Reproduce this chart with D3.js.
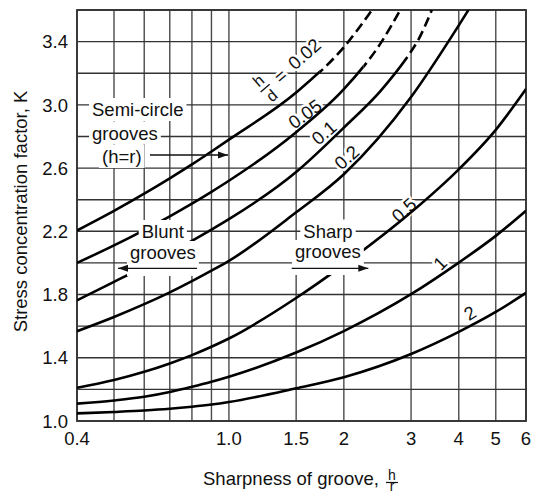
<!DOCTYPE html>
<html><head><meta charset="utf-8">
<script src="https://cdn.jsdelivr.net/npm/d3@7"></script>
<style>
body{margin:0;background:#fff;}
svg{display:block;font-family:"Liberation Sans",Arial,Helvetica,sans-serif;}
</style></head><body>
<svg id="chart" width="539" height="494"></svg>
<script>
// ---------- data ----------
const xGridValues = [0.4,0.5,0.6,0.7,0.8,0.9,1.0,1.5,2,3,4,5,6];
const xTickValues = [0.4,1.0,1.5,2,3,4,5,6];
const xTickLabels = ["0.4","1.0","1.5","2","3","4","5","6"];
const yGridValues = [1.0,1.2,1.4,1.6,1.8,2.0,2.2,2.4,2.6,2.8,3.0,3.2,3.4,3.6];
const yTickValues = [1.0,1.4,1.8,2.2,2.6,3.0,3.4];
const yTickLabels = ["1.0","1.4","1.8","2.2","2.6","3.0","3.4"];

const seriesNames = ["0.02","0.05","0.1","0.2","0.5","1","2"];
const hr_002 = [0.4,0.5,0.6,0.7,0.8,0.9,1.0,1.5,2,2.37];
const K_002  = [2.205,2.329,2.438,2.535,2.623,2.705,2.78,3.078,3.365,3.6];
const hr_005 = [0.4,0.5,0.6,0.7,0.8,0.9,1.0,1.5,2,2.5,2.81];
const K_005  = [2.0,2.111,2.208,2.295,2.375,2.45,2.52,2.827,3.099,3.392,3.6];
const hr_01  = [0.4,0.5,0.6,0.7,0.8,0.9,1.0,1.5,2,2.5,3,3.13,3.4];
const K_01   = [1.763,1.88,1.977,2.063,2.14,2.211,2.277,2.575,2.856,3.09,3.338,3.409,3.6];
const hr_02  = [0.4,0.5,0.6,0.7,0.8,0.9,1.0,1.5,2,3,4,4.24];
const K_02   = [1.568,1.658,1.739,1.814,1.885,1.951,2.013,2.32,2.561,3.05,3.503,3.6];
const hr_05  = [0.4,0.5,0.6,0.7,0.8,0.9,1.0,1.5,2,3,4,5,6];
const K_05   = [1.21,1.259,1.311,1.364,1.417,1.47,1.522,1.778,1.989,2.32,2.592,2.842,3.10];
const hr_1   = [0.4,0.5,0.6,0.7,0.8,0.9,1.0,1.5,2,3,4,5,6];
const K_1    = [1.11,1.13,1.153,1.183,1.216,1.248,1.28,1.433,1.569,1.802,2.002,2.171,2.33];
const hr_2   = [0.4,0.5,0.6,0.7,0.8,0.9,1.0,1.5,2,3,4,5,6];
const K_2    = [1.048,1.057,1.066,1.077,1.09,1.104,1.12,1.207,1.277,1.424,1.564,1.69,1.81];
// h/r beyond which the curve is drawn dashed (null = solid throughout)
const dashFrom = [1.73, 2.25, 2.89, null, null, null, null];

const seriesX = [hr_002,hr_005,hr_01,hr_02,hr_05,hr_1,hr_2];
const seriesK = [K_002,K_005,K_01,K_02,K_05,K_1,K_2];

// ---------- layout ----------
const svg = d3.select("#chart");
const L = 77, R = 526, T = 10, B = 421;
const x = d3.scaleLog().domain([0.4,6]).range([L,R]);
const y = d3.scaleLinear().domain([1.0,3.6]).range([B,T]);
const FS = 18.5;
const gridColor = "#4a4a4a";

const defs = svg.append("defs");
defs.append("clipPath").attr("id","plotClip").append("rect")
  .attr("x",L).attr("y",T).attr("width",R-L).attr("height",B-T);

// grid
const grid = svg.append("g");
grid.selectAll("line.v").data(xGridValues).join("line")
  .attr("x1",d=>x(d)).attr("x2",d=>x(d)).attr("y1",y(1.0)).attr("y2",y(3.6))
  .attr("stroke",gridColor).attr("stroke-width",1.4);
grid.selectAll("line.h").data(yGridValues).join("line")
  .attr("y1",d=>y(d)).attr("y2",d=>y(d)).attr("x1",x(0.4)).attr("x2",x(6))
  .attr("stroke","#333").attr("stroke-width",1.4);
svg.append("rect").attr("x",L).attr("y",T).attr("width",R-L).attr("height",B-T)
  .attr("fill","none").attr("stroke","#333").attr("stroke-width",1.8);

// tick labels
svg.append("g").selectAll("text").data(xTickValues).join("text")
  .attr("x",d=>x(d)).attr("y",B+24).attr("text-anchor","middle")
  .attr("font-size",FS).attr("fill","#111").text((d,i)=>xTickLabels[i]);
svg.append("g").selectAll("text").data(yTickValues).join("text")
  .attr("x",L-9).attr("y",d=>y(d)).attr("dy","0.36em").attr("text-anchor","end")
  .attr("font-size",FS).attr("fill","#111").text((d,i)=>yTickLabels[i]);

// axis titles
svg.append("text").attr("transform","translate(26.5,211.5) rotate(-90)")
  .attr("text-anchor","middle").attr("font-size",FS).attr("fill","#111")
  .text("Stress concentration factor, K");
svg.append("text").attr("x",203).attr("y",484.5).attr("font-size",FS).attr("fill","#111")
  .text("Sharpness of groove,");
const frac = svg.append("text").attr("text-anchor","middle").attr("font-size",14).attr("fill","#111");
frac.append("tspan").attr("x",392).attr("y",480).text("h");
frac.append("tspan").attr("x",392).attr("y",490.5).text("r");
svg.append("line").attr("x1",386).attr("x2",398).attr("y1",482.5).attr("y2",482.5)
  .attr("stroke","#111").attr("stroke-width",1.2);

// curve labels (halo hides the grid behind them)
const labelLayer = svg.append("g");
const curveLabels = [
  {t:"0.05", cx:305, cy:114, a:-36},
  {t:"0.1",  cx:324, cy:132.7, a:-41},
  {t:"0.2",  cx:346.7, cy:157.3, a:-42},
  {t:"0.5",  cx:404, cy:210, a:-42},
  {t:"1",    cx:440, cy:263.3, a:-45},
  {t:"2",    cx:470, cy:313, a:-32}
];
function halo(sel){
  return sel.attr("fill","#111").attr("stroke","#fff").attr("stroke-width",5)
    .attr("paint-order","stroke").attr("stroke-linejoin","round");
}
curveLabels.forEach(c=>{
  halo(labelLayer.append("text")
    .attr("transform",`translate(${c.cx},${c.cy}) rotate(${c.a})`)
    .attr("text-anchor","middle").attr("dominant-baseline","central")
    .attr("font-size",FS)).text(c.t);
});
// h/d = 0.02
const hd = labelLayer.append("g").attr("transform","translate(265.5,88.5) rotate(-41)");
const hdFrac = halo(hd.append("text").attr("text-anchor","middle").attr("font-size",16));
hdFrac.append("tspan").attr("x",0).attr("y",-5).text("h");
hdFrac.append("tspan").attr("x",0).attr("y",15).text("d");
hd.append("line").attr("x1",-6).attr("x2",6).attr("y1",-0.5).attr("y2",-0.5)
  .attr("stroke","#111").attr("stroke-width",1.3);
const hdVal = halo(hd.append("text").attr("text-anchor","middle").attr("dominant-baseline","central")
  .attr("font-size",FS));
hdVal.append("tspan").attr("x",19.5).attr("y",0).text("=");
hdVal.append("tspan").attr("x",52).attr("y",-1).text("0.02");

// curves
const lineGen = d3.line().x(d=>x(d[0])).y(d=>y(d[1])).curve(d3.curveMonotoneX);
const curves = svg.append("g").attr("clip-path","url(#plotClip)");
seriesNames.forEach((name,i)=>{
  const pts = seriesX[i].map((v,j)=>[v,seriesK[i][j]]);
  const dStr = lineGen(pts);
  if (dashFrom[i] == null) {
    curves.append("path").attr("d",dStr).attr("fill","none")
      .attr("stroke","#000").attr("stroke-width",2.6);
  } else {
    const xs = x(dashFrom[i]);
    defs.append("clipPath").attr("id","solid"+i).append("rect")
      .attr("x",L).attr("y",T).attr("width",xs-L).attr("height",B-T);
    defs.append("clipPath").attr("id","dash"+i).append("rect")
      .attr("x",xs).attr("y",T).attr("width",R-xs).attr("height",B-T);
    curves.append("g").attr("clip-path",`url(#solid${i})`).append("path").attr("d",dStr)
      .attr("fill","none").attr("stroke","#000").attr("stroke-width",2.6);
    curves.append("g").attr("clip-path",`url(#dash${i})`).append("path").attr("d",dStr)
      .attr("fill","none").attr("stroke","#000").attr("stroke-width",2.6)
      .attr("stroke-dasharray","10,5");
  }
});

// annotation blocks with white backgrounds
const ann = svg.append("g");
function boxedText(str, xPos, yBase, extraBottom){
  const t = ann.append("text").attr("x",xPos).attr("y",yBase).attr("font-size",FS)
    .attr("fill","#111").text(str);
  const bb = t.node().getBBox();
  ann.insert("rect","text").attr("x",bb.x-3).attr("y",bb.y-1)
    .attr("width",bb.width+6).attr("height",bb.height+2+(extraBottom||0)).attr("fill","#fff");
  return t;
}
function arrow(x1,x2,yy){
  ann.append("line").attr("x1",x1).attr("x2",x2).attr("y1",yy).attr("y2",yy)
    .attr("stroke","#111").attr("stroke-width",1.3);
  const dir = Math.sign(x2-x1);
  ann.append("path").attr("d",`M${x2},${yy} L${x2-dir*10},${yy-3.5} L${x2-dir*10},${yy+3.5} Z`)
    .attr("fill","#111");
}
boxedText("Semi-circle",92,116);
boxedText("grooves",92,139.5);
boxedText("(h=r)",102,163);
arrow(150,228,155);

boxedText("Blunt",141.7,238);
boxedText("grooves",130,259,12);
arrow(197,118,268.3);

boxedText("Sharp",303.3,237.5);
boxedText("grooves",295,258,12);
arrow(291.7,368.3,268.3);
</script>
</body></html>
